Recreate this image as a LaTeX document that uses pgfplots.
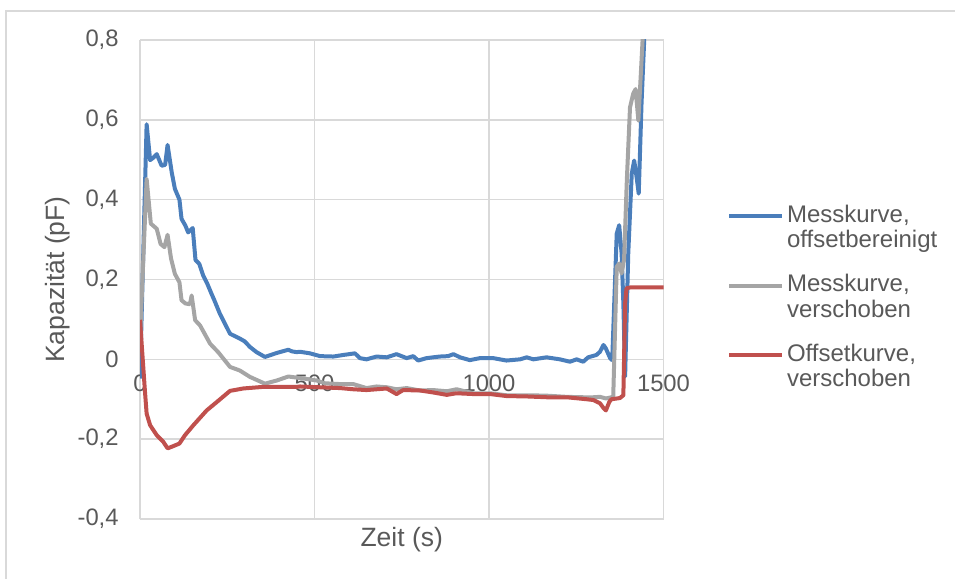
\documentclass[border=0pt]{standalone}
\usepackage{pgfplots}
\pgfplotsset{compat=1.18}
\usepackage{fontspec}
\setmainfont{Liberation Sans}
\definecolor{cblue}{HTML}{4A7EBB}
\definecolor{cgray}{HTML}{A5A5A5}
\definecolor{cred}{HTML}{C0504D}
\definecolor{cgrid}{HTML}{D9D9D9}
\definecolor{ctext}{HTML}{595959}
\begin{document}
\begin{tikzpicture}
\useasboundingbox (0,0) rectangle (477.5bp,289.5bp);
\draw[cgrid, line width=1bp] (3bp,0) -- (3bp,284bp) -- (477.5bp,284bp);
\begin{axis}[
  at={(70bp,30bp)}, anchor=south west,
  scale only axis, width=261.75bp, height=239.5bp,
  xmin=0, xmax=1500, ymin=-0.4, ymax=0.8,
  xtick={0,500,1000,1500},
  ytick={-0.4,-0.2,0,0.2,0.4,0.6,0.8},
  grid=major,
  major grid style={cgrid, line width=0.75bp},
  axis line style={draw=none},
  major tick length=0pt,
  /pgf/number format/assume math mode=true,
  /pgf/number format/use comma,
  /pgf/number format/1000 sep={},
  tick label style={font=\fontsize{11.9bp}{14bp}\selectfont, text=ctext},
  xticklabel style={anchor=center, yshift=68bp},
  yticklabel style={anchor=east, inner sep=0pt, xshift=-10.5bp},
  xlabel={Zeit (s)},
  ylabel={Kapazität (pF)},
  label style={font=\fontsize{13.25bp}{15bp}\selectfont, text=ctext},
  xlabel style={at={(axis description cs:0.5,-0.0438)}, anchor=center},
  ylabel style={at={(axis description cs:-0.1566,0.5)}, anchor=center},
  legend cell align=left,
  legend style={at={(axis description cs:1.1213,0.6576)}, anchor=north west,
    draw=none, fill=none, inner sep=0pt, outer sep=0pt,
    row sep=22.75bp, column sep=1.5bp,
    font=\fontsize{12bp}{14bp}\selectfont, text=ctext,
    nodes={inner sep=0pt, text height=9bp, text depth=3bp}},
  legend image code/.code={\draw[#1, line width=2bp] (0bp,0bp) -- (26.5bp,0bp);},
  every axis plot/.append style={line width=2bp, line join=round, mark=none},
]
\addplot[cblue] coordinates {
(0,-0.048) (19,0.589) (29,0.499) (38,0.505) (48,0.514) (62,0.485) (72,0.487) (79,0.537)
(91,0.468) (100,0.427) (113,0.40) (119,0.352) (130,0.335) (138,0.318) (151,0.329)
(159,0.249) (170,0.239) (181,0.21) (193,0.189) (205,0.164) (213,0.148) (229,0.114)
(258,0.064) (286,0.052) (300,0.045) (315,0.031) (334,0.018) (358,0.006) (392,0.016)
(425,0.024) (435,0.02) (449,0.018) (458,0.019) (487,0.015) (516,0.008) (554,0.007)
(583,0.011) (616,0.015) (630,0.003) (649,0.000) (678,0.007) (707,0.005) (735,0.013)
(764,0.003) (783,0.008) (797,-0.003) (821,0.003) (859,0.007) (883,0.008) (898,0.013)
(917,0.005) (945,-0.002) (974,0.003) (1012,0.003) (1050,-0.003) (1089,0.000) (1108,0.005)
(1127,0.000) (1165,0.005) (1203,0.000) (1232,-0.006) (1251,0.000) (1270,-0.006)
(1284,0.005) (1308,0.011) (1318,0.019) (1328,0.036) (1335,0.027) (1347,0.003)
(1353,-0.002) (1366,0.315) (1373,0.336) (1380,0.265) (1385,0.14) (1390,-0.043)
(1399,0.265) (1409,0.465) (1416,0.498) (1423,0.456) (1429,0.415) (1437,0.64)
(1447,0.848) (1455,0.95)
};
\addlegendentry{\makebox[0pt][l]{\raisebox{-12.8bp}[0pt][0pt]{offsetbereinigt}}Messkurve,}
\addplot[cgray] coordinates {
(0,0.05) (19,0.452) (31,0.34) (48,0.327) (59,0.289) (70,0.281) (79,0.312) (89,0.252)
(100,0.214) (113,0.193) (119,0.148) (130,0.14) (143,0.138) (148,0.16) (158,0.098)
(172,0.085) (201,0.039) (224,0.018) (258,-0.019) (286,-0.028) (315,-0.044) (358,-0.061)
(392,-0.053) (425,-0.043) (468,-0.048) (506,-0.053) (530,-0.06) (573,-0.062) (611,-0.062)
(649,-0.072) (678,-0.068) (707,-0.07) (735,-0.075) (764,-0.072) (802,-0.078) (840,-0.077)
(879,-0.08) (907,-0.075) (955,-0.085) (1003,-0.085) (1050,-0.09) (1108,-0.09)
(1165,-0.091) (1222,-0.094) (1270,-0.095) (1299,-0.095) (1318,-0.094) (1335,-0.098)
(1351,-0.095) (1356,-0.093) (1366,0.232) (1373,0.24) (1380,0.215) (1387,0.25)
(1395,0.45) (1404,0.631) (1413,0.665) (1420,0.677) (1428,0.598) (1432,0.665)
(1440,0.798) (1444,0.848) (1450,0.95)
};
\addlegendentry{\makebox[0pt][l]{\raisebox{-12.8bp}[0pt][0pt]{verschoben}}Messkurve,}
\addplot[cred] coordinates {
(0,0.099) (14,-0.078) (19,-0.136) (29,-0.165) (48,-0.19) (67,-0.207) (79,-0.223)
(91,-0.219) (113,-0.211) (129,-0.19) (153,-0.165) (191,-0.128) (220,-0.107) (258,-0.079)
(296,-0.073) (353,-0.069) (449,-0.069) (458,-0.068) (516,-0.070) (573,-0.072)
(611,-0.075) (649,-0.077) (707,-0.073) (735,-0.087) (754,-0.077) (802,-0.078)
(840,-0.083) (879,-0.089) (907,-0.085) (955,-0.087) (1003,-0.087) (1050,-0.092)
(1108,-0.093) (1165,-0.095) (1222,-0.095) (1280,-0.1) (1299,-0.102) (1318,-0.11)
(1328,-0.122) (1335,-0.128) (1345,-0.106) (1351,-0.1) (1375,-0.097) (1385,-0.09)
(1390,0.14) (1394,0.178) (1404,0.18) (1500,0.18)
};
\addlegendentry{\makebox[0pt][l]{\raisebox{-12.8bp}[0pt][0pt]{verschoben}}Offsetkurve,}
\end{axis}
\end{tikzpicture}
\end{document}
